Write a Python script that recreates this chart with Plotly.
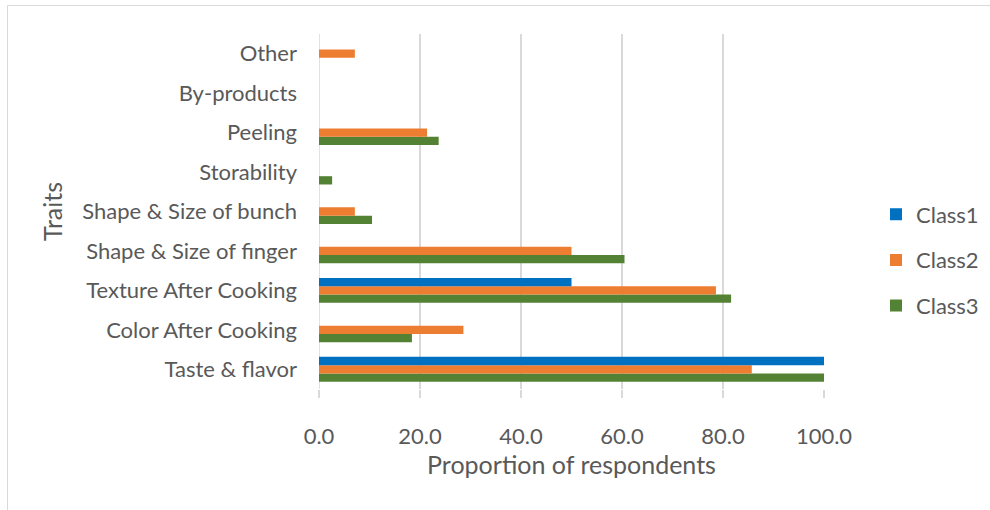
import plotly.graph_objects as go

# Traits listed bottom-to-top on the category axis
traits = [
    "Taste & flavor",
    "Color After Cooking",
    "Texture After Cooking",
    "Shape & Size of finger",
    "Shape & Size of bunch",
    "Storability",
    "Peeling",
    "By-products",
    "Other",
]

# Proportion of respondents (%) per class
class1 = [100.0, 0.0, 50.0, 0.0, 0.0, 0.0, 0.0, 0.0, 0.0]
class2 = [85.7, 28.6, 78.6, 50.0, 7.1, 0.0, 21.4, 0.0, 7.1]
class3 = [100.0, 18.4, 81.6, 60.5, 10.5, 2.6, 23.7, 0.0, 0.0]

x_ticks = [0, 20, 40, 60, 80, 100]
x_tick_text = ["0.0", "20.0", "40.0", "60.0", "80.0", "100.0"]

# drawn bottom-to-top inside each group; legend rank keeps Class1 first
series = [
    ("Class3", class3, "#548235", 3),
    ("Class2", class2, "#ED7D31", 2),
    ("Class1", class1, "#0070C0", 1),
]

FONT = "Lato, 'Liberation Sans', sans-serif"
TEXT = "#595959"
GRID = "#d9d9d9"

fig = go.Figure()
for name, vals, color, rank in series:
    fig.add_trace(go.Bar(
        y=traits, x=vals, name=name, orientation="h",
        marker=dict(color=color, line=dict(width=0)),
        legendgroup=name, legendrank=rank,
    ))

W, H = 990, 510
L, R, T, B = 319, 166, 34, 121
pw, ph = W - L - R, H - T - B

def px_x(px):
    return (px - L) / pw

def px_y(py):
    return (H - B - py) / ph

fig.update_layout(
    width=W, height=H,
    margin=dict(l=L, r=R, t=T, b=B, autoexpand=False),
    paper_bgcolor="white", plot_bgcolor="white",
    barmode="group", bargap=0.37, bargroupgap=0,
    font=dict(family=FONT, size=22, color=TEXT),
    legend=dict(
        x=px_x(876), y=px_y(260), xanchor="left", yanchor="middle",
        traceorder="grouped", tracegroupgap=14,
        font=dict(family=FONT, size=22, color=TEXT),
        bgcolor="rgba(0,0,0,0)",
    ),
    xaxis=dict(
        range=[0, 100], tickvals=x_ticks, ticktext=x_tick_text,
        showgrid=True, gridcolor=GRID, gridwidth=1.5,
        ticks="outside", ticklen=8, tickcolor=GRID, tickwidth=1.5,
        ticklabelstandoff=20,
        zeroline=False, showline=False,
        title=dict(text="Proportion of respondents",
                   font=dict(family=FONT, size=25, color=TEXT), standoff=6),
        automargin=False, fixedrange=True,
    ),
    yaxis=dict(
        categoryorder="array", categoryarray=traits,
        showgrid=False, zeroline=False,
        showline=False, ticks="", ticklabelstandoff=21,
        title=dict(text="Traits",
                   font=dict(family=FONT, size=25, color=TEXT), standoff=12),
        automargin=False, fixedrange=True,
    ),
    shapes=[
        # category axis line at x = 0
        dict(type="line", xref="x", yref="paper", x0=0, x1=0, y0=0, y1=1,
             line=dict(color=GRID, width=1.5), layer="below"),
        # chart area border
        dict(type="rect", xref="paper", yref="paper",
             x0=px_x(7.5), x1=px_x(1000), y0=px_y(520), y1=px_y(5.5),
             line=dict(color=GRID, width=1), fillcolor="rgba(0,0,0,0)"),
    ],
)

fig.write_html("out.html")
